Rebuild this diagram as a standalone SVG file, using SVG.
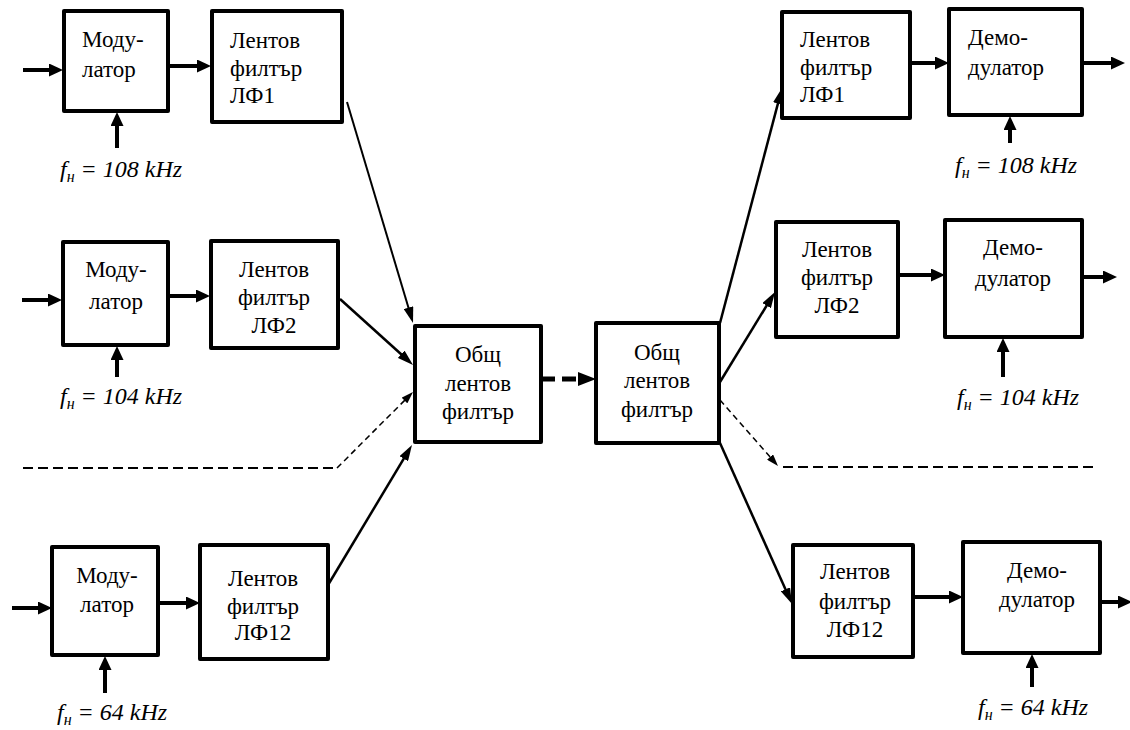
<svg xmlns="http://www.w3.org/2000/svg" width="1130" height="730" viewBox="0 0 1130 730">
<style>
.box{fill:#fff;stroke:#000;stroke-width:4;stroke-linejoin:round}
.t{font-family:"Liberation Serif","Times New Roman",serif;font-size:23px;fill:#000}
.c{text-anchor:middle}
.f{font-family:"Liberation Serif","Times New Roman",serif;font-size:24px;font-style:italic;fill:#000}
.sub{font-size:16px}
.thick{stroke:#000;stroke-width:4;fill:none;marker-end:url(#ah)}
.diag{stroke:#000;stroke-width:2.5;fill:none;marker-end:url(#ad)}
.dash{stroke:#000;stroke-width:1.5;fill:none;stroke-dasharray:6,4}
.dashh{stroke:#000;stroke-width:2;fill:none;stroke-dasharray:10,5}
</style>
<defs>
<marker id="ah" markerUnits="userSpaceOnUse" markerWidth="14" markerHeight="13" refX="3" refY="6.5" orient="auto"><path d="M0,0 L14,6.5 L0,13 z" fill="#000"/></marker>
<marker id="ad" markerUnits="userSpaceOnUse" markerWidth="16" markerHeight="10" refX="3" refY="5" orient="auto"><path d="M0,0 L16,5 L0,10 z" fill="#000"/></marker>
<marker id="ads" markerUnits="userSpaceOnUse" markerWidth="12" markerHeight="8" refX="2" refY="4" orient="auto"><path d="M0,0 L12,4 L0,8 z" fill="#000"/></marker>
<marker id="am" markerUnits="userSpaceOnUse" markerWidth="18" markerHeight="14" refX="2" refY="7" orient="auto"><path d="M0,0 L18,7 L0,14 z" fill="#000"/></marker>
</defs>

<g id="connectors">
<line class="thick" x1="23" y1="70" x2="52" y2="70"/>
<line class="thick" x1="168" y1="66" x2="200" y2="66"/>
<line class="thick" x1="117" y1="148" x2="117" y2="123"/>
<line class="thick" x1="22" y1="300" x2="51" y2="300"/>
<line class="thick" x1="168" y1="296" x2="199" y2="296"/>
<line class="thick" x1="117" y1="377" x2="117" y2="357"/>
<line class="thick" x1="12" y1="608" x2="41" y2="608"/>
<line class="thick" x1="154" y1="603" x2="189" y2="603"/>
<line class="thick" x1="105" y1="693" x2="105" y2="667"/>
<line class="diag" x1="347" y1="102" x2="409.3" y2="310.5" style="stroke-width:2"/>
<line class="diag" x1="340" y1="299" x2="403.4" y2="356.3"/>
<line class="diag" x1="328" y1="585" x2="405.3" y2="456.1"/>
<path class="dashh" d="M23,468 L337,468"/>
<path class="dash" d="M337,468 L405.9,399.1" style="marker-end:url(#ads)"/>
<line x1="541" y1="379" x2="580" y2="379" stroke="#000" stroke-width="5" stroke-dasharray="14,7" marker-end="url(#am)"/>
<line class="diag" x1="720" y1="323" x2="778.7" y2="100.6"/>
<line class="diag" x1="720" y1="382" x2="768.2" y2="303.1"/>
<path class="dash" d="M720,400 L771.4,458.5" style="marker-end:url(#ads)"/>
<path class="dashh" d="M783,467 L1095,467"/>
<line class="diag" x1="720" y1="443" x2="786.7" y2="592.1"/>
<line class="thick" x1="910" y1="63" x2="938" y2="63"/>
<line class="thick" x1="1082" y1="63" x2="1114" y2="63"/>
<line class="thick" x1="1010" y1="143" x2="1010" y2="127"/>
<line class="thick" x1="898" y1="275" x2="934" y2="275"/>
<line class="thick" x1="1082" y1="277" x2="1106" y2="277"/>
<line class="thick" x1="1003" y1="377" x2="1003" y2="349"/>
<line class="thick" x1="913" y1="597" x2="952" y2="597"/>
<line class="thick" x1="1100" y1="602" x2="1121" y2="602"/>
<line class="thick" x1="1032" y1="687" x2="1032" y2="665"/>
</g>

<g id="mod1">
<rect class="box" x="64" y="11" width="104" height="100"/>
<text class="t" x="82" y="47">Моду-</text>
<text class="t" x="82" y="77">латор</text>
</g>
<g id="lf1">
<rect class="box" x="212" y="11" width="130" height="111"/>
<text class="t" x="230" y="48">Лентов</text>
<text class="t" x="230" y="76">филтър</text>
<text class="t" x="230" y="103">ЛФ1</text>
</g>
<g id="freq1">
<text class="f" x="60" y="177">f<tspan class="sub" dy="5">н</tspan><tspan dy="-5"> = 108 kHz</tspan></text>
</g>

<g id="mod2">
<rect class="box" x="63" y="242" width="105" height="103"/>
<text class="t c" x="116" y="277">Моду-</text>
<text class="t c" x="116" y="309">латор</text>
</g>
<g id="lf2">
<rect class="box" x="211" y="241" width="127" height="107"/>
<text class="t c" x="274" y="277">Лентов</text>
<text class="t c" x="274" y="305">филтър</text>
<text class="t c" x="274" y="333">ЛФ2</text>
</g>
<g id="freq2">
<text class="f" x="60" y="404">f<tspan class="sub" dy="5">н</tspan><tspan dy="-5"> = 104 kHz</tspan></text>
</g>

<g id="mod3">
<rect class="box" x="52" y="547" width="106" height="108"/>
<text class="t c" x="107" y="583">Моду-</text>
<text class="t c" x="107" y="612">латор</text>
</g>
<g id="lf12">
<rect class="box" x="200" y="545" width="128" height="114"/>
<text class="t c" x="263" y="586">Лентов</text>
<text class="t c" x="263" y="614">филтър</text>
<text class="t c" x="263" y="640">ЛФ12</text>
</g>
<g id="freq3">
<text class="f" x="57" y="720">f<tspan class="sub" dy="5">н</tspan><tspan dy="-5"> = 64 kHz</tspan></text>
</g>

<g id="common1">
<rect class="box" x="415" y="326" width="126" height="116"/>
<text class="t c" x="478" y="362">Общ</text>
<text class="t c" x="478" y="391">лентов</text>
<text class="t c" x="478" y="419">филтър</text>
</g>
<g id="common2">
<rect class="box" x="596" y="323" width="123" height="120"/>
<text class="t c" x="657" y="360">Общ</text>
<text class="t c" x="657" y="388">лентов</text>
<text class="t c" x="657" y="417">филтър</text>
</g>

<g id="rlf1">
<rect class="box" x="782" y="12" width="128" height="106"/>
<text class="t" x="800" y="47">Лентов</text>
<text class="t" x="800" y="75">филтър</text>
<text class="t" x="800" y="102">ЛФ1</text>
</g>
<g id="demod1">
<rect class="box" x="949" y="9" width="133" height="106"/>
<text class="t" x="968" y="45">Демо-</text>
<text class="t" x="968" y="75">дулатор</text>
</g>
<g id="rfreq1">
<text class="f" x="955" y="173">f<tspan class="sub" dy="5">н</tspan><tspan dy="-5"> = 108 kHz</tspan></text>
</g>

<g id="rlf2">
<rect class="box" x="776" y="222" width="122" height="115"/>
<text class="t c" x="837" y="257">Лентов</text>
<text class="t c" x="837" y="285">филтър</text>
<text class="t c" x="837" y="313">ЛФ2</text>
</g>
<g id="demod2">
<rect class="box" x="945" y="220" width="137" height="117"/>
<text class="t c" x="1013" y="255">Демо-</text>
<text class="t c" x="1013" y="286">дулатор</text>
</g>
<g id="rfreq2">
<text class="f" x="957" y="405">f<tspan class="sub" dy="5">н</tspan><tspan dy="-5"> = 104 kHz</tspan></text>
</g>

<g id="rlf12">
<rect class="box" x="793" y="545" width="120" height="112"/>
<text class="t c" x="855" y="579">Лентов</text>
<text class="t c" x="855" y="609">филтър</text>
<text class="t c" x="855" y="637">ЛФ12</text>
</g>
<g id="demod3">
<rect class="box" x="963" y="542" width="137" height="111"/>
<text class="t c" x="1037" y="578">Демо-</text>
<text class="t c" x="1037" y="607">дулатор</text>
</g>
<g id="rfreq3">
<text class="f" x="978" y="715">f<tspan class="sub" dy="5">н</tspan><tspan dy="-5"> = 64 kHz</tspan></text>
</g>
</svg>
